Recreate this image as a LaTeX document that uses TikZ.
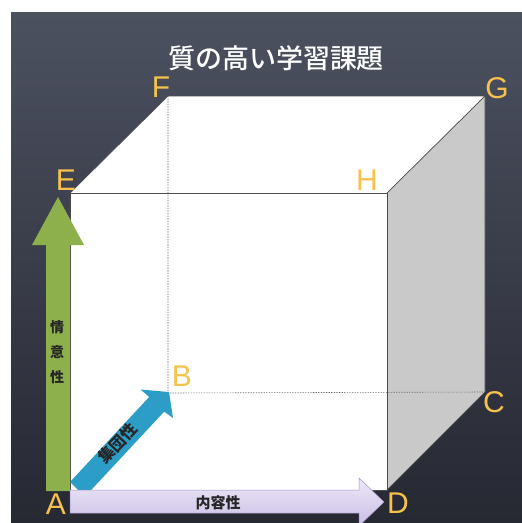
\documentclass[tikz,border=0pt]{standalone}
\usepackage{fontspec}
\setmainfont{Liberation Sans}
\newfontfamily\jp{Noto Sans CJK JP}
\newfontfamily\jpm{Noto Sans CJK JP Medium}
\usetikzlibrary{calc}
\definecolor{boardtop}{HTML}{4C5160}
\definecolor{boardbot}{HTML}{262832}
\definecolor{lettercol}{HTML}{F6C24D}
\definecolor{sidegray}{HTML}{C9C9C9}
\definecolor{greenar}{HTML}{8DB04C}
\definecolor{bluear}{HTML}{2B9DC6}
\definecolor{purtop}{HTML}{EDE8F8}
\definecolor{purbot}{HTML}{CABEE6}
\definecolor{purline}{HTML}{A596C8}
\tikzset{
  edge/.style={draw=black!70, line width=0.7pt, line join=round},
  hidden/.style={draw=black!60, line width=0.6pt, dash pattern=on 1.3pt off 1.3pt},
  corner/.style={text=lettercol, font=\fontsize{30}{30}\selectfont, inner sep=0pt},
  axislabel/.style={text=black!85, font=\jp\bfseries\fontsize{14}{14}\selectfont, inner sep=0pt},
}
\begin{document}
\begin{tikzpicture}[x=1pt,y=-1pt]
\useasboundingbox (0,0) rectangle (522,523);
\fill[white] (0,0) rectangle (522,523);
\shade[top color=boardtop, bottom color=boardbot] (11,12) rectangle (522,523);
% cube corners
\coordinate (A) at (70,490);
\coordinate (D) at (387,490);
\coordinate (E) at (70,193);
\coordinate (H) at (387,193);
\coordinate (B) at (168,393);
\coordinate (C) at (485,392);
\coordinate (F) at (168,96);
\coordinate (G) at (485,96);
% faces
\fill[white] (A) -- (E) -- (F) -- (G) -- (H) -- (D) -- cycle;
\fill[sidegray] (H) -- (G) -- (C) -- (D) -- cycle;
\draw[hidden] (F) -- (B) -- (C);
\draw[edge] (A) -- (E) -- (H) -- (D) -- cycle;
\draw[edge] (E) -- (F) -- (G) -- (H);
\draw[edge] (G) -- (C) -- (D);
% title
\node[text=white, font=\jpm\fontsize{27}{27}\selectfont, inner sep=0pt] (title) at (276,58) {質の高い学習課題};
% green arrow (情意性)
\fill[greenar] (46,491) -- (46,245) -- (32,245) -- (58,197) -- (84,245) -- (70,245) -- (70,491) -- cycle;
\node[axislabel, align=center, font=\jp\bfseries\fontsize{14}{25}\selectfont] (joui) at (57,352) {情\\意\\性};
% blue arrow (集団性)
\fill[bluear] (70.0,482.0) -- (149.2,396.9) -- (140.5,389.5) -- (169,392) -- (173,418) -- (164.2,411.6) -- (85.0,496.6) -- cycle;
\node[axislabel, rotate=46.5, font=\jp\bfseries\fontsize{16}{16}\selectfont] (shudan) at (118,443) {集団性};
% purple arrow (内容性)
\shade[top color=purtop, bottom color=purbot, draw=purline, line width=0.5pt]
  (70,490) -- (359,490) -- (359,478) -- (384,502) -- (359,526) -- (359,513) -- (70,513) -- cycle;
\node[axislabel, font=\jp\bfseries\fontsize{15}{15}\selectfont] (naiyou) at (218,503) {内容性};
% corner letters
\node[corner] (lA) at (56,504) {A};
\node[corner] (lB) at (182,376) {B};
\node[corner] (lC) at (494,402) {C};
\node[corner] (lD) at (398,503) {D};
\node[corner] (lE) at (66,180) {E};
\node[corner] (lF) at (161,87) {F};
\node[corner] (lG) at (497,88) {G};
\node[corner] (lH) at (367,180) {H};
\end{tikzpicture}
\end{document}
